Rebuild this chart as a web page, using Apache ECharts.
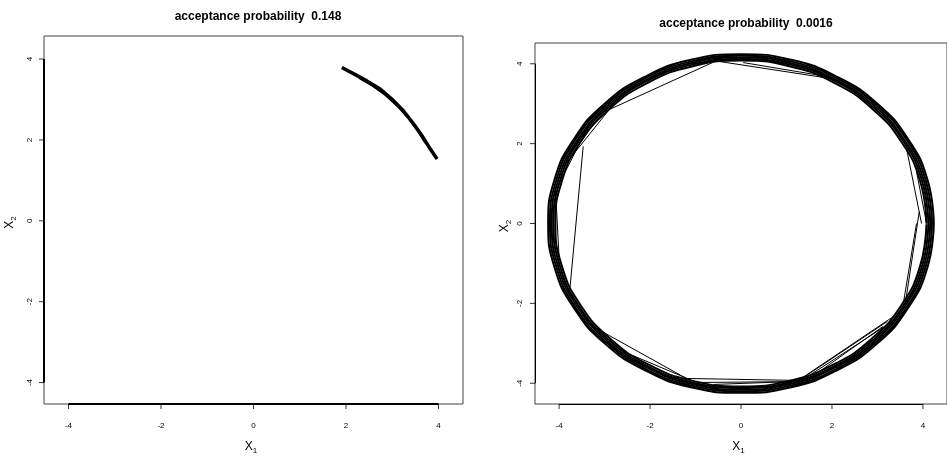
<!DOCTYPE html>
<html>
<head>
<meta charset="utf-8">
<script src="https://cdn.jsdelivr.net/npm/echarts@6/dist/echarts.min.js"></script>
<style>html,body{margin:0;padding:0;background:#fff}#c{width:947px;height:460px}</style>
</head>
<body>
<div id="c"></div>
<script>
// ---- data ----
const titles = ['acceptance probability  0.148', 'acceptance probability  0.0016'];
const tickValues = [-4, -2, 0, 2, 4];
const leftRange = { x: [-4.53, 4.53], y: [-4.53, 4.57] };
const rightRange = { x: [-4.53, 4.53], y: [-4.52, 4.52] };

// left panel: trace stuck on a short arc
const leftTrace = [[1.91,3.79],[2.16,3.64],[2.45,3.46],[2.74,3.26],[2.99,3.01],[3.24,2.72],[3.46,2.40],[3.64,2.11],[3.82,1.78],[3.97,1.53]];
const leftTraceInner = [[2.30,3.53],[2.58,3.34],[2.86,3.11],[3.12,2.84],[3.36,2.53],[3.56,2.22],[3.72,1.93]];

// right panel: loops of the trace around the ring
const loopA = [[4.08,0],[3.94,1.06],[3.53,2.04],[2.88,2.88],[2.04,3.53],[1.06,3.94],[0,4.08],[-1.06,3.94],[-2.04,3.53],[-2.88,2.88],[-3.53,2.04],[-3.94,1.06],[-4.08,0],[-3.94,-1.06],[-3.53,-2.04],[-2.88,-2.88],[-2.04,-3.53],[-1.06,-3.94],[0,-4.08],[1.06,-3.94],[2.04,-3.53],[2.88,-2.88],[3.53,-2.04],[3.94,-1.06],[4.08,0]];
const loopB = [[4.12,0],[3.98,1.07],[3.57,2.06],[2.91,2.91],[2.06,3.57],[1.07,3.98],[0,4.12],[-1.07,3.98],[-2.06,3.57],[-2.91,2.91],[-3.57,2.06],[-3.98,1.07],[-4.12,0],[-3.98,-1.07],[-3.57,-2.06],[-2.91,-2.91],[-2.06,-3.57],[-1.07,-3.98],[0,-4.12],[1.07,-3.98],[2.06,-3.57],[2.91,-2.91],[3.57,-2.06],[3.98,-1.07],[4.12,0]];
const loopC = [[4.16,0],[4.02,1.08],[3.60,2.08],[2.94,2.94],[2.08,3.60],[1.08,4.02],[0,4.16],[-1.08,4.02],[-2.08,3.60],[-2.94,2.94],[-3.60,2.08],[-4.02,1.08],[-4.16,0],[-4.02,-1.08],[-3.60,-2.08],[-2.94,-2.94],[-2.08,-3.60],[-1.08,-4.02],[0,-4.16],[1.08,-4.02],[2.08,-3.60],[2.94,-2.94],[3.60,-2.08],[4.02,-1.08],[4.16,0]];
const loopD = [[4.20,0],[4.06,1.09],[3.64,2.10],[2.97,2.97],[2.10,3.64],[1.09,4.06],[0,4.20],[-1.09,4.06],[-2.10,3.64],[-2.97,2.97],[-3.64,2.10],[-4.06,1.09],[-4.20,0],[-4.06,-1.09],[-3.64,-2.10],[-2.97,-2.97],[-2.10,-3.64],[-1.09,-4.06],[0,-4.20],[1.09,-4.06],[2.10,-3.64],[2.97,-2.97],[3.64,-2.10],[4.06,-1.09],[4.20,0]];
const loopE = [[4.24,0],[4.10,1.10],[3.67,2.12],[3.00,3.00],[2.12,3.67],[1.10,4.10],[0,4.24],[-1.10,4.10],[-2.12,3.67],[-3.00,3.00],[-3.67,2.12],[-4.10,1.10],[-4.24,0],[-4.10,-1.10],[-3.67,-2.12],[-3.00,-3.00],[-2.12,-3.67],[-1.10,-4.10],[0,-4.24],[1.10,-4.10],[2.12,-3.67],[3.00,-3.00],[3.67,-2.12],[4.10,-1.10],[4.24,0]];

// right panel: jumps of the trace across the ring
const rightChords = [
  [[-3.00,2.80],[-0.55,4.07],[2.03,3.62]],
  [[0.05,4.03],[2.00,3.66]],
  [[-3.47,1.93],[-3.77,-1.72]],
  [[-4.05,0.88],[-3.35,2.45]],
  [[-3.85,1.50],[-2.90,2.85]],
  [[-3.62,2.02],[-2.75,3.05]],
  [[-4.08,0.88],[-4.00,-0.85]],
  [[-3.77,-1.72],[-3.30,-2.55],[-1.20,-3.88],[1.26,-3.93]],
  [[-2.60,-3.20],[-1.10,-3.92]],
  [[-0.90,-3.98],[1.20,-3.96]],
  [[-0.60,-4.03],[1.32,-3.95]],
  [[1.26,-3.93],[3.35,-2.33]],
  [[1.32,-3.90],[3.22,-2.45]],
  [[1.40,-3.88],[3.43,-2.38]],
  [[1.45,-3.93],[3.12,-2.58]],
  [[3.64,1.88],[3.97,0.00]],
  [[3.86,0.00],[3.57,-2.00]],
  [[3.86,1.30],[4.08,0.00]],
  [[3.92,0.30],[3.62,-1.95]]
];

// ---- chart ----
const FONT = '"Liberation Sans", Arial, Helvetica, sans-serif';
const TICK = 5;
const chart = echarts.init(document.getElementById('c'), null, { renderer: 'canvas' });

// plot frames in pixels; the grid is widened by the tick length on the left and bottom
const frames = [
  { left: 44, top: 36, width: 419, height: 368, range: leftRange },
  { left: 535, top: 43, width: 413, height: 362, range: rightRange }
];
frames.forEach(f => {
  const ux = f.width / (f.range.x[1] - f.range.x[0]);
  const uy = f.height / (f.range.y[1] - f.range.y[0]);
  f.ext = { x: [f.range.x[0] - TICK / ux, f.range.x[1]], y: [f.range.y[0] - TICK / uy, f.range.y[1]] };
});

function richName() {
  return { color: '#000', fontFamily: FONT, rich: {
    x: { fontSize: 12, lineHeight: 16, verticalAlign: 'middle', fontFamily: FONT, color: '#000' },
    s: { fontSize: 8, lineHeight: 8, verticalAlign: 'bottom', fontFamily: FONT, color: '#000' } } };
}
function xAxisCfg(idx, range, name) {
  return {
    type: 'value', gridIndex: idx, min: range[0], max: range[1], position: 'bottom',
    splitLine: { show: false },
    axisLine: { show: false, onZero: false },
    axisTick: { show: false },
    axisLabel: { show: true, customValues: tickValues, margin: 13, fontSize: 8, color: '#000', fontFamily: FONT },
    name: '{x|X}{s|' + name + '}', nameLocation: 'middle', nameGap: 30,
    nameTextStyle: richName()
  };
}
function yAxisCfg(idx, range, name, gap, margin) {
  return {
    type: 'value', gridIndex: idx, min: range[0], max: range[1], position: 'left',
    splitLine: { show: false },
    axisLine: { show: false, onZero: false },
    axisTick: { show: false },
    axisLabel: { show: true, customValues: tickValues, rotate: 90, margin: margin, fontSize: 8, color: '#000', fontFamily: FONT },
    name: '{x|X}{s|' + name + '}', nameLocation: 'middle', nameGap: gap,
    nameTextStyle: richName()
  };
}
function axisMarks(range, width) {
  const a = tickValues[0], b = tickValues[tickValues.length - 1];
  return {
    symbol: 'none', silent: true, animation: false, label: { show: false },
    lineStyle: { color: '#000', width: width, type: 'solid' },
    emphasis: { disabled: true },
    data: [
      [{ coord: [a, range.y[0]] }, { coord: [b, range.y[0]] }],
      [{ coord: [range.x[0], a] }, { coord: [range.x[0], b] }]
    ]
  };
}
function frameArea(range) {
  return {
    silent: true, animation: false, label: { show: false },
    itemStyle: { color: 'rgba(0,0,0,0)', borderColor: '#444', borderWidth: 1 },
    emphasis: { disabled: true },
    data: [[{ coord: [range.x[0], range.y[0]] }, { coord: [range.x[1], range.y[1]] }]]
  };
}
function lineSeries(idx, data, width, smooth) {
  return {
    type: 'line', xAxisIndex: idx, yAxisIndex: idx, data: data,
    showSymbol: false, symbol: 'none', smooth: smooth || false,
    lineStyle: { color: '#000', width: width }, silent: true, animation: false,
    emphasis: { disabled: true }
  };
}
// outward tick marks: tiny rect symbols sitting inside the widened grid, below / left of the frame
function tickSeries(idx, ext) {
  return [
    { type: 'scatter', xAxisIndex: idx, yAxisIndex: idx, clip: false, silent: true, animation: false, z: 5,
      data: tickValues.map(v => [v, ext.y[0]]), symbol: 'rect', symbolSize: [1, TICK], symbolOffset: [0, -TICK / 2],
      itemStyle: { color: '#000' }, emphasis: { disabled: true } },
    { type: 'scatter', xAxisIndex: idx, yAxisIndex: idx, clip: false, silent: true, animation: false, z: 5,
      data: tickValues.map(v => [ext.x[0], v]), symbol: 'rect', symbolSize: [TICK, 1], symbolOffset: [TICK / 2, 0],
      itemStyle: { color: '#000' }, emphasis: { disabled: true } }
  ];
}

const series = [];
const s0 = lineSeries(0, leftTrace, 3.5);
s0.markLine = axisMarks(leftRange, 2);
s0.markArea = frameArea(leftRange);
series.push(s0);
series.push(lineSeries(0, leftTraceInner, 2.5));
const s1 = lineSeries(1, loopA, 2.0, 0.5);
s1.markLine = axisMarks(rightRange, 1);
s1.markArea = frameArea(rightRange);
series.push(s1);
[loopB, loopC, loopD, loopE].forEach(l => series.push(lineSeries(1, l, 2.0, 0.5)));
rightChords.forEach(c => series.push(lineSeries(1, c, 1)));
tickSeries(0, frames[0].ext).forEach(s => series.push(s));
tickSeries(1, frames[1].ext).forEach(s => series.push(s));

chart.setOption({
  animation: false,
  backgroundColor: '#fff',
  title: [
    { text: titles[0], left: 253, top: 6, textAlign: 'center', textStyle: { fontSize: 12, fontWeight: 'bold', color: '#000', fontFamily: FONT } },
    { text: titles[1], left: 741, top: 13, textAlign: 'center', textStyle: { fontSize: 12, fontWeight: 'bold', color: '#000', fontFamily: FONT } }
  ],
  grid: frames.map(f => ({
    left: f.left - TICK, top: f.top, width: f.width + TICK, height: f.height + TICK,
    show: false, containLabel: false
  })),
  xAxis: [xAxisCfg(0, frames[0].ext.x, '1'), xAxisCfg(1, frames[1].ext.x, '1')],
  yAxis: [yAxisCfg(0, frames[0].ext.y, '2', 21, 5), yAxisCfg(1, frames[1].ext.y, '2', 17, 6)],
  series: series
});
</script>
</body>
</html>
